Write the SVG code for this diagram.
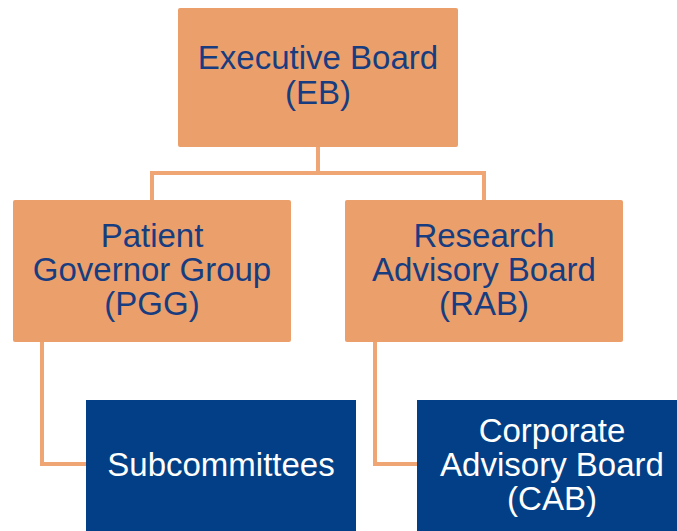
<svg xmlns="http://www.w3.org/2000/svg" width="677" height="531" viewBox="0 0 677 531">
<style>
.org{fill:#EBA06C;}
.blue{fill:#023F86;}
.t{font-family:"Liberation Sans",Arial,sans-serif;font-size:33px;text-anchor:middle;}
.dt{fill:#173D80;}
.wt{fill:#FFFFFF;}
.c{fill:none;stroke:#F0A674;stroke-width:4;}
</style>
<rect width="677" height="531" fill="#FFFFFF"/>
<g id="connectors">
<path class="c" d="M318 147 V173 M152 173 H484 M152 171 V200 M484 171 V200"/>
<path class="c" d="M42 342 V464 H86"/>
<path class="c" d="M375 342 V464 H417"/>
</g>
<g id="eb">
<rect class="org" x="178" y="8" width="280" height="139" rx="2"/>
<text class="t dt" x="318" y="69">Executive Board</text>
<text class="t dt" x="318" y="104">(EB)</text>
</g>
<g id="pgg">
<rect class="org" x="13" y="200" width="278" height="142" rx="2"/>
<text class="t dt" x="152" y="247">Patient</text>
<text class="t dt" x="152" y="281">Governor Group</text>
<text class="t dt" x="152" y="315">(PGG)</text>
</g>
<g id="rab">
<rect class="org" x="345" y="200" width="278" height="142" rx="2"/>
<text class="t dt" x="484" y="247">Research</text>
<text class="t dt" x="484" y="281">Advisory Board</text>
<text class="t dt" x="484" y="315">(RAB)</text>
</g>
<g id="subcommittees">
<rect class="blue" x="86" y="400" width="270" height="131"/>
<text class="t wt" x="221" y="476">Subcommittees</text>
</g>
<g id="cab">
<rect class="blue" x="417" y="400" width="260" height="131"/>
<text class="t wt" x="552" y="442">Corporate</text>
<text class="t wt" x="552" y="476">Advisory Board</text>
<text class="t wt" x="552" y="510">(CAB)</text>
</g>
</svg>
